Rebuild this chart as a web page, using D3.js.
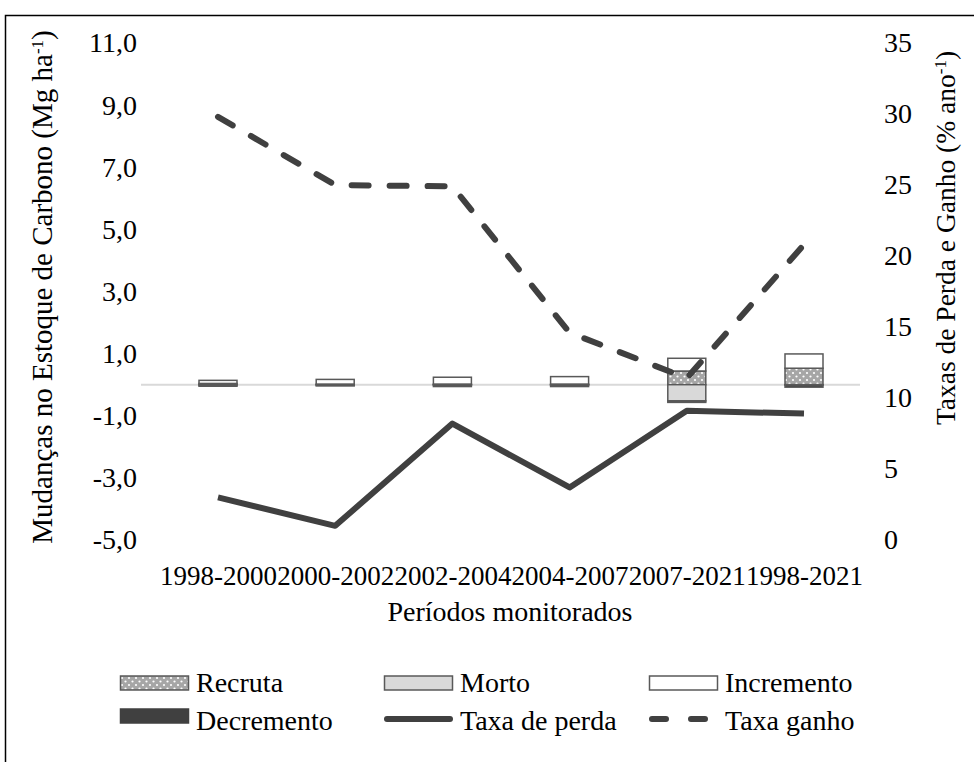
<!DOCTYPE html>
<html>
<head>
<meta charset="utf-8">
<style>
  body { margin: 0; background: #fff; }
  svg text { font-family: "Liberation Serif", "Times New Roman", serif; fill: #000; }
</style>
<script src="https://cdn.jsdelivr.net/npm/d3@7"></script>
</head>
<body>
<svg id="chart" width="974" height="762"></svg>
<script>
// data
var periods = ["1998-2000", "2000-2002", "2002-2004", "2004-2007", "2007-2021", "1998-2021"];
var recruta    = [0.04, 0.02, 0.02, 0.02, 0.44, 0.53];
var incremento = [0.10, 0.15, 0.22, 0.24, 0.41, 0.46];
var morto      = [-0.01, -0.01, -0.01, -0.01, -0.52, -0.01];
var decremento = [-0.04, -0.03, -0.05, -0.05, -0.05, -0.07];
var taxaPerda  = [3.0, 1.0, 8.2, 3.7, 9.1, 8.9];
var taxaGanho  = [29.8, 25.0, 24.9, 14.6, 11.4, 20.8];
var leftTicks  = [-5, -3, -1, 1, 3, 5, 7, 9, 11];
var rightTicks = [0, 5, 10, 15, 20, 25, 30, 35];

var svg = d3.select("#chart");
var fs = 27;
var dark = "#404040";

var plot = {left: 141, right: 860, top: 43, bottom: 540};

var x = d3.scalePoint().domain(periods).range([218, 804]);
var barW = 38;
var y = d3.scaleLinear().domain([-5, 11]).range([plot.bottom, plot.top]);
var y2 = d3.scaleLinear().domain([0, 35]).range([plot.bottom, plot.top]);

var locale = d3.formatLocale({decimal: ",", thousands: ".", grouping: [3], currency: ["", ""], minus: "-"});
var fmt1 = locale.format(".1f");

// outer frame
svg.append("rect")
  .attr("x", 5.5).attr("y", 15.5)
  .attr("width", 980).attr("height", 800)
  .attr("fill", "none").attr("stroke", "#000").attr("stroke-width", 1.5);

// dotted pattern for Recruta
var defs = svg.append("defs");
var pat = defs.append("pattern")
  .attr("id", "dots")
  .attr("patternUnits", "userSpaceOnUse")
  .attr("width", 7).attr("height", 7);
pat.append("rect").attr("width", 7).attr("height", 7).attr("fill", "#a6a6a6");
pat.append("circle").attr("cx", 2).attr("cy", 2).attr("r", 1.1).attr("fill", "#fff");
pat.append("circle").attr("cx", 5.5).attr("cy", 5.5).attr("r", 1.1).attr("fill", "#fff");

// axes (labels only)
var axL = svg.append("g")
  .attr("transform", "translate(137,0)")
  .call(d3.axisLeft(y).tickValues(leftTicks).tickFormat(fmt1).tickSize(0).tickPadding(0));
axL.select(".domain").remove();

var axR = svg.append("g")
  .attr("transform", "translate(884,0)")
  .call(d3.axisRight(y2).tickValues(rightTicks).tickSize(0).tickPadding(0));
axR.select(".domain").remove();

var axB = svg.append("g")
  .attr("transform", "translate(0,566)")
  .call(d3.axisBottom(x).tickSize(0).tickPadding(0));
axB.select(".domain").remove();

svg.selectAll(".tick text")
  .style("font-family", "Liberation Serif")
  .style("font-size", fs + "px")
  .attr("fill", "#000");
axL.selectAll(".tick text").style("font-size", "28px");
axR.selectAll(".tick text").style("font-size", "28px");

// zero line
svg.append("line")
  .attr("x1", plot.left).attr("x2", plot.right)
  .attr("y1", y(0)).attr("y2", y(0))
  .attr("stroke", "#d9d9d9").attr("stroke-width", 2);

// stacked bars
var rows = periods.map(function(p, i) {
  return {period: p, Recruta: recruta[i], Morto: morto[i], Incremento: incremento[i], Decremento: decremento[i]};
});
var keys = ["Recruta", "Morto", "Incremento", "Decremento"];
var fills = {Recruta: "url(#dots)", Morto: "#d9d9d9", Incremento: "#fff", Decremento: dark};
var series = d3.stack().keys(keys).offset(d3.stackOffsetDiverging)(rows);

svg.append("g").selectAll("g")
  .data(series)
  .join("g")
    .attr("fill", function(d) { return fills[d.key]; })
  .selectAll("rect")
  .data(function(d) { return d; })
  .join("rect")
    .attr("x", function(d) { return x(d.data.period) - barW / 2; })
    .attr("y", function(d) { return y(d[1]); })
    .attr("width", barW)
    .attr("height", function(d) { return y(d[0]) - y(d[1]); })
    .attr("stroke", "#595959")
    .attr("stroke-width", 1.5);

// lines
var line = d3.line()
  .x(function(d, i) { return x(periods[i]); })
  .y(function(d) { return y2(d); });

svg.append("path")
  .datum(taxaPerda)
  .attr("d", line)
  .attr("fill", "none")
  .attr("stroke", dark)
  .attr("stroke-width", 6)
  .attr("stroke-linejoin", "round");

svg.append("path")
  .datum(taxaGanho)
  .attr("d", line)
  .attr("fill", "none")
  .attr("stroke", dark)
  .attr("stroke-width", 6)
  .attr("stroke-linecap", "round")
  .attr("stroke-dasharray", "17,21");

// axis titles
function withSup(t, main) {
  t.text(main);
  t.append("tspan").attr("baseline-shift", "super").style("font-size", "17px").text("-1");
  t.append("tspan").text(")");
}

svg.append("text")
  .attr("transform", "translate(52,287) rotate(-90)")
  .attr("text-anchor", "middle")
  .style("font-size", "29px")
  .call(withSup, "Mudanças no Estoque de Carbono (Mg ha");

svg.append("text")
  .attr("transform", "translate(955,238) rotate(-90)")
  .attr("text-anchor", "middle")
  .style("font-size", "27.5px")
  .call(withSup, "Taxas de Perda e Ganho (% ano");

svg.append("text")
  .attr("x", 510)
  .attr("y", 621)
  .attr("text-anchor", "middle")
  .style("font-size", "28px")
  .text("Períodos monitorados");

// legend
var legend = [
  {name: "Recruta", kind: "rect", fill: "url(#dots)", col: 0, row: 0},
  {name: "Morto", kind: "rect", fill: "#d9d9d9", col: 1, row: 0},
  {name: "Incremento", kind: "rect", fill: "#fff", col: 2, row: 0},
  {name: "Decremento", kind: "rect", fill: dark, col: 0, row: 1},
  {name: "Taxa de perda", kind: "line", dash: null, col: 1, row: 1},
  {name: "Taxa ganho", kind: "line", dash: "14,25", col: 2, row: 1}
];
var colX = [120, 384, 649];
var rowY = [683, 716];

var lg = svg.append("g").selectAll("g")
  .data(legend)
  .join("g")
    .attr("transform", function(d) { return "translate(" + colX[d.col] + "," + rowY[d.row] + ")"; });

lg.filter(function(d) { return d.kind === "rect"; })
  .append("rect")
    .attr("x", 0.5).attr("y", -7)
    .attr("width", 68).attr("height", 14)
    .attr("fill", function(d) { return d.fill; })
    .attr("stroke", function(d) { return d.name === "Decremento" ? dark : "#595959"; })
    .attr("stroke-width", 1.5);

lg.filter(function(d) { return d.kind === "line"; })
  .append("line")
    .attr("x1", 3).attr("x2", 66)
    .attr("y1", 3).attr("y2", 3)
    .attr("stroke", dark)
    .attr("stroke-width", 6)
    .attr("stroke-linecap", "round")
    .attr("stroke-dasharray", function(d) { return d.dash; });

lg.append("text")
  .attr("x", 76)
  .attr("y", function(d) { return d.row === 0 ? 9 : 14; })
  .style("font-size", "28px")
  .text(function(d) { return d.name; });
</script>
</body>
</html>
